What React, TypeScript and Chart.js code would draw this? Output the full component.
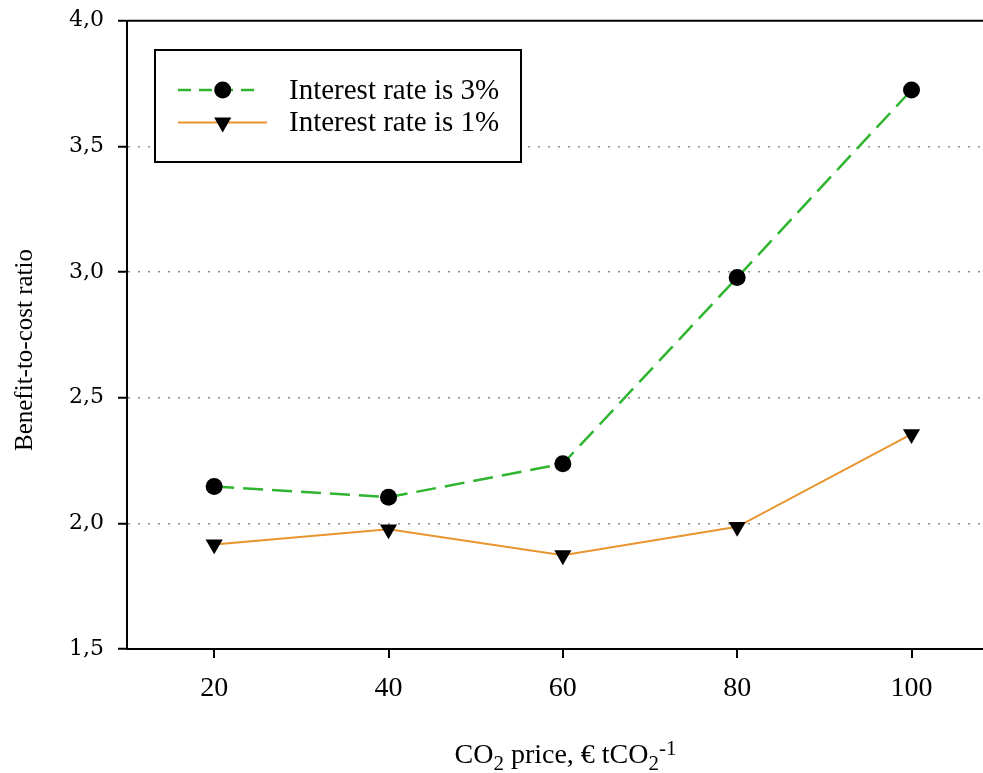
import React, { useEffect, useRef } from 'react';
import { Chart, registerables } from 'chart.js';

Chart.register(...registerables);

// ---- data ----
const co2Prices = [20, 40, 60, 80, 100];
const rate3Values = [2.147, 2.104, 2.237, 2.978, 3.724];
const rate1Values = [1.916, 1.976, 1.873, 1.986, 2.355];
const seriesLabels = ['Interest rate is 3%', 'Interest rate is 1%'];
const xTickValues = [20, 40, 60, 80, 100];
const yTickValues = [1.5, 2.0, 2.5, 3.0, 3.5, 4.0];
const yAxisTitle = 'Benefit-to-cost ratio';
const xAxisTitleParts = [
  { text: 'CO', kind: 'n' },
  { text: '2', kind: 'sub' },
  { text: ' price, \u20AC tCO', kind: 'n' },
  { text: '2', kind: 'sub' },
  { text: '-1', kind: 'sup' },
];

// ---- styles ----
const W = 983;
const H = 773;
const GREEN = '#2fb52f';
const ORANGE = '#e8952f';
const SERIF = '"Liberation Serif", "Times New Roman", serif';

function drawTriangleDown(ctx: CanvasRenderingContext2D, x: number, y: number, r: number) {
  let rad = Math.PI;
  ctx.beginPath();
  ctx.moveTo(x + Math.sin(rad) * r, y - Math.cos(rad) * r);
  rad += (2 * Math.PI) / 3;
  ctx.lineTo(x + Math.sin(rad) * r, y - Math.cos(rad) * r);
  rad += (2 * Math.PI) / 3;
  ctx.lineTo(x + Math.sin(rad) * r, y - Math.cos(rad) * r);
  ctx.closePath();
  ctx.fill();
}

const zeroPad = (s: any) => {
  s.paddingTop = 0;
  s.paddingBottom = 0;
  s.paddingLeft = 0;
  s.paddingRight = 0;
};

const decorPlugin = {
  id: 'decor',
  afterDraw(chart: any) {
    const ctx: CanvasRenderingContext2D = chart.ctx;
    const area = chart.chartArea;
    ctx.save();

    // top frame line
    ctx.strokeStyle = '#000';
    ctx.lineWidth = 2;
    ctx.setLineDash([]);
    ctx.beginPath();
    ctx.moveTo(area.left, area.top);
    ctx.lineTo(chart.width, area.top);
    ctx.stroke();

    // y axis title
    ctx.save();
    ctx.translate(32, 350);
    ctx.rotate(-Math.PI / 2);
    ctx.font = `25px ${SERIF}`;
    ctx.fillStyle = '#000';
    ctx.textAlign = 'center';
    ctx.textBaseline = 'alphabetic';
    ctx.fillText(yAxisTitle, 0, 0);
    ctx.restore();

    // x axis title with sub/superscripts
    const mainFont = `28px ${SERIF}`;
    const smallFont = `21px ${SERIF}`;
    ctx.textAlign = 'left';
    ctx.textBaseline = 'alphabetic';
    let total = 0;
    const widths = xAxisTitleParts.map((p) => {
      ctx.font = p.kind === 'n' ? mainFont : smallFont;
      const w = ctx.measureText(p.text).width;
      total += w;
      return w;
    });
    let x = 565.5 - total / 2;
    const baseY = 763;
    xAxisTitleParts.forEach((p, i) => {
      ctx.font = p.kind === 'n' ? mainFont : smallFont;
      const dy = p.kind === 'sub' ? 7 : p.kind === 'sup' ? -8 : 0;
      ctx.fillText(p.text, x, baseY + dy);
      x += widths[i];
    });

    // legend
    const bx = 155, by = 50, bw = 366, bh = 112;
    ctx.fillStyle = '#fff';
    ctx.fillRect(bx, by, bw, bh);
    ctx.strokeStyle = '#000';
    ctx.lineWidth = 2;
    ctx.strokeRect(bx, by, bw, bh);

    const rows = [
      { label: seriesLabels[0], color: GREEN, dash: [13, 8], width: 2.5, x2: 258, marker: 'circle', y: 90 },
      { label: seriesLabels[1], color: ORANGE, dash: [], width: 2, x2: 267, marker: 'tri', y: 122.5 },
    ];
    rows.forEach((r) => {
      ctx.strokeStyle = r.color;
      ctx.lineWidth = r.width;
      ctx.setLineDash(r.dash);
      ctx.beginPath();
      ctx.moveTo(178, r.y);
      ctx.lineTo(r.x2, r.y);
      ctx.stroke();
      ctx.setLineDash([]);
      ctx.fillStyle = '#000';
      if (r.marker === 'circle') {
        ctx.beginPath();
        ctx.arc(222.7, r.y, 8.5, 0, Math.PI * 2);
        ctx.fill();
      } else {
        drawTriangleDown(ctx, 222.7, r.y, 9.9);
      }
      ctx.font = `29px ${SERIF}`;
      ctx.fillStyle = '#000';
      ctx.textAlign = 'left';
      ctx.textBaseline = 'middle';
      ctx.fillText(r.label, 289, r.y + 1);
    });

    ctx.restore();
  },
};

export default function App() {
  const canvasRef = useRef<HTMLCanvasElement | null>(null);

  useEffect(() => {
    if (!canvasRef.current) return;
    const chart = new Chart(canvasRef.current, {
      type: 'line',
      data: {
        datasets: [
          {
            label: seriesLabels[0],
            data: co2Prices.map((x, i) => ({ x, y: rate3Values[i] })),
            borderColor: GREEN,
            borderWidth: 2.5,
            borderDash: [20, 9],
            pointStyle: 'circle',
            pointRadius: 8.5,
            pointBackgroundColor: '#000',
            pointBorderColor: '#000',
            pointBorderWidth: 0,
            tension: 0,
            fill: false,
          },
          {
            label: seriesLabels[1],
            data: co2Prices.map((x, i) => ({ x, y: rate1Values[i] })),
            borderColor: ORANGE,
            borderWidth: 2,
            pointStyle: 'triangle',
            rotation: 180,
            pointRadius: 9.9,
            pointBackgroundColor: '#000',
            pointBorderColor: '#000',
            pointBorderWidth: 0,
            tension: 0,
            fill: false,
          },
        ],
      },
      options: {
        responsive: false,
        animation: false,
        devicePixelRatio: 1,
        layout: { autoPadding: false, padding: { left: 0, right: 0, top: 20.7, bottom: 0 } },
        plugins: {
          legend: { display: false },
          tooltip: { enabled: false },
          title: { display: false },
        },
        scales: {
          x: {
            type: 'linear',
            min: 10,
            max: 108.2,
            afterBuildTicks: (s: any) => {
              s.ticks = xTickValues.map((v) => ({ value: v }));
            },
            afterFit: (s: any) => {
              s.height = 124;
              zeroPad(s);
            },
            grid: {
              drawOnChartArea: false,
              drawTicks: true,
              tickLength: 9,
              tickColor: '#000',
              tickWidth: 2,
              color: '#000',
              lineWidth: 2,
            },
            border: { display: true, color: '#000', width: 2 },
            ticks: {
              font: { family: SERIF, size: 28 },
              color: '#000',
              padding: 14,
              maxRotation: 0,
              autoSkip: false,
              callback: (v: any) => String(v),
            },
          },
          y: {
            type: 'linear',
            min: 1.5,
            max: 4.0,
            afterBuildTicks: (s: any) => {
              s.ticks = yTickValues.map((v) => ({ value: v }));
            },
            afterFit: (s: any) => {
              s.width = 127;
              zeroPad(s);
            },
            grid: {
              color: (c: any) =>
                c.tick && (c.tick.value <= 1.5 || c.tick.value >= 4.0) ? 'rgba(0,0,0,0)' : '#8c8c8c',
              lineWidth: 1.5,
              drawTicks: true,
              tickLength: 9,
              tickColor: '#000',
              tickWidth: 2,
              tickBorderDash: [],
            },
            border: { display: true, color: '#000', width: 2, dash: [2, 8] },
            ticks: {
              font: { family: '"DejaVu Serif", serif', size: 22 },
              color: '#000',
              padding: 14,
              autoSkip: false,
              callback: (v: any) => Number(v).toFixed(1).replace('.', ','),
            },
          },
        },
      },
      plugins: [decorPlugin],
    } as any);
    return () => chart.destroy();
  }, []);

  return (
    <div style={{ position: 'absolute', left: 0, top: 0, width: W, height: H, background: '#fff' }}>
      <canvas ref={canvasRef} width={W} height={H} style={{ display: 'block' }} />
    </div>
  );
}
